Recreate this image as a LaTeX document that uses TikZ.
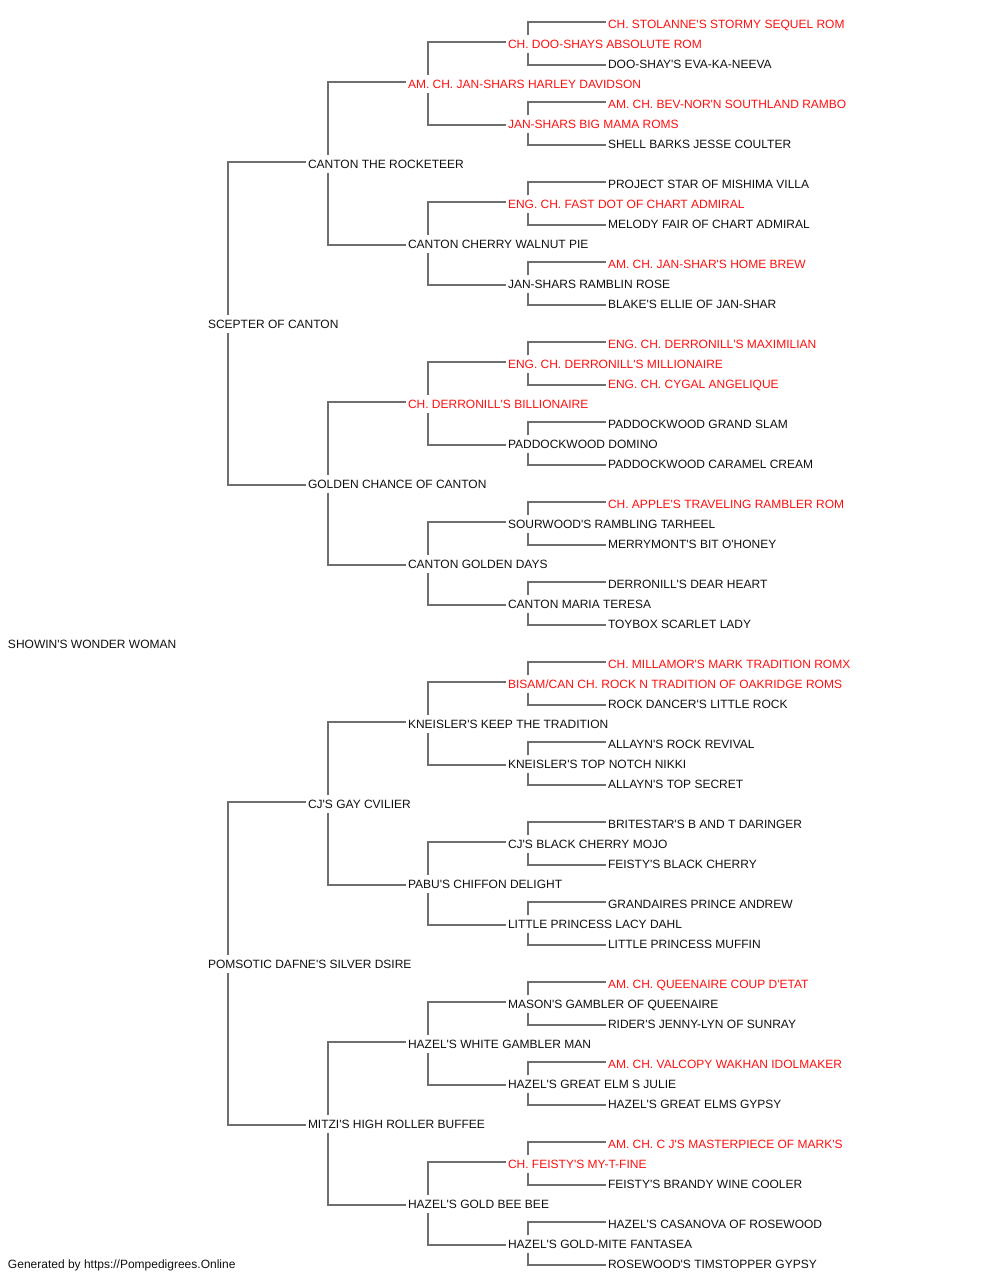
\documentclass[tikz,border=0pt]{standalone}
\usepackage{fontspec}
\newfontfamily\pedfont{Liberation Sans}
\definecolor{ink}{HTML}{111111}
\definecolor{pedred}{HTML}{FF1010}
\definecolor{linegray}{HTML}{6E6E6E}
\tikzset{
  pd/.style={anchor=base west, inner xsep=2.5pt, inner ysep=0pt, outer sep=0pt,
    text height=13.7pt, text depth=4.3pt, font=\pedfont\fontsize{12}{14}\selectfont, text=ink},
  pr/.style={pd, text=pedred},
  ln/.style={draw=linegray, line width=2pt}
}
\begin{document}
\begin{tikzpicture}[x=1pt,y=-1pt]
\useasboundingbox[fill=white] (0,0) rectangle (1000,1280);
% generation 0
\node[pd] (n0-0) at (5.5,648.7) {SHOWIN'S WONDER WOMAN};
% generation 1
\node[pd] (n1-0) at (205.5,328.7) {SCEPTER OF CANTON};
\node[pd] (n1-1) at (205.5,968.7) {POMSOTIC DAFNE'S SILVER DSIRE};
% generation 2
\node[pd] (n2-0) at (305.5,168.7) {CANTON THE ROCKETEER};
\node[pd] (n2-1) at (305.5,488.7) {GOLDEN CHANCE OF CANTON};
\node[pd] (n2-2) at (305.5,808.7) {CJ'S GAY CVILIER};
\node[pd] (n2-3) at (305.5,1128.7) {MITZI'S HIGH ROLLER BUFFEE};
% generation 3
\node[pr] (n3-0) at (405.5,88.7) {AM. CH. JAN-SHARS HARLEY DAVIDSON};
\node[pd] (n3-1) at (405.5,248.7) {CANTON CHERRY WALNUT PIE};
\node[pr] (n3-2) at (405.5,408.7) {CH. DERRONILL'S BILLIONAIRE};
\node[pd] (n3-3) at (405.5,568.7) {CANTON GOLDEN DAYS};
\node[pd] (n3-4) at (405.5,728.7) {KNEISLER'S KEEP THE TRADITION};
\node[pd] (n3-5) at (405.5,888.7) {PABU'S CHIFFON DELIGHT};
\node[pd] (n3-6) at (405.5,1048.7) {HAZEL'S WHITE GAMBLER MAN};
\node[pd] (n3-7) at (405.5,1208.7) {HAZEL'S GOLD BEE BEE};
% generation 4
\node[pr] (n4-0) at (505.5,48.7) {CH. DOO-SHAYS ABSOLUTE ROM};
\node[pr] (n4-1) at (505.5,128.7) {JAN-SHARS BIG MAMA ROMS};
\node[pr] (n4-2) at (505.5,208.7) {ENG. CH. FAST DOT OF CHART ADMIRAL};
\node[pd] (n4-3) at (505.5,288.7) {JAN-SHARS RAMBLIN ROSE};
\node[pr] (n4-4) at (505.5,368.7) {ENG. CH. DERRONILL'S MILLIONAIRE};
\node[pd] (n4-5) at (505.5,448.7) {PADDOCKWOOD DOMINO};
\node[pd] (n4-6) at (505.5,528.7) {SOURWOOD'S RAMBLING TARHEEL};
\node[pd] (n4-7) at (505.5,608.7) {CANTON MARIA TERESA};
\node[pr] (n4-8) at (505.5,688.7) {BISAM/CAN CH. ROCK N TRADITION OF OAKRIDGE ROMS};
\node[pd] (n4-9) at (505.5,768.7) {KNEISLER'S TOP NOTCH NIKKI};
\node[pd] (n4-10) at (505.5,848.7) {CJ'S BLACK CHERRY MOJO};
\node[pd] (n4-11) at (505.5,928.7) {LITTLE PRINCESS LACY DAHL};
\node[pd] (n4-12) at (505.5,1008.7) {MASON'S GAMBLER OF QUEENAIRE};
\node[pd] (n4-13) at (505.5,1088.7) {HAZEL'S GREAT ELM S JULIE};
\node[pr] (n4-14) at (505.5,1168.7) {CH. FEISTY'S MY-T-FINE};
\node[pd] (n4-15) at (505.5,1248.7) {HAZEL'S GOLD-MITE FANTASEA};
% generation 5
\node[pr] (n5-0) at (605.5,28.7) {CH. STOLANNE'S STORMY SEQUEL ROM};
\node[pd] (n5-1) at (605.5,68.7) {DOO-SHAY'S EVA-KA-NEEVA};
\node[pr] (n5-2) at (605.5,108.7) {AM. CH. BEV-NOR'N SOUTHLAND RAMBO};
\node[pd] (n5-3) at (605.5,148.7) {SHELL BARKS JESSE COULTER};
\node[pd] (n5-4) at (605.5,188.7) {PROJECT STAR OF MISHIMA VILLA};
\node[pd] (n5-5) at (605.5,228.7) {MELODY FAIR OF CHART ADMIRAL};
\node[pr] (n5-6) at (605.5,268.7) {AM. CH. JAN-SHAR'S HOME BREW};
\node[pd] (n5-7) at (605.5,308.7) {BLAKE'S ELLIE OF JAN-SHAR};
\node[pr] (n5-8) at (605.5,348.7) {ENG. CH. DERRONILL'S MAXIMILIAN};
\node[pr] (n5-9) at (605.5,388.7) {ENG. CH. CYGAL ANGELIQUE};
\node[pd] (n5-10) at (605.5,428.7) {PADDOCKWOOD GRAND SLAM};
\node[pd] (n5-11) at (605.5,468.7) {PADDOCKWOOD CARAMEL CREAM};
\node[pr] (n5-12) at (605.5,508.7) {CH. APPLE'S TRAVELING RAMBLER ROM};
\node[pd] (n5-13) at (605.5,548.7) {MERRYMONT'S BIT O'HONEY};
\node[pd] (n5-14) at (605.5,588.7) {DERRONILL'S DEAR HEART};
\node[pd] (n5-15) at (605.5,628.7) {TOYBOX SCARLET LADY};
\node[pr] (n5-16) at (605.5,668.7) {CH. MILLAMOR'S MARK TRADITION ROMX};
\node[pd] (n5-17) at (605.5,708.7) {ROCK DANCER'S LITTLE ROCK};
\node[pd] (n5-18) at (605.5,748.7) {ALLAYN'S ROCK REVIVAL};
\node[pd] (n5-19) at (605.5,788.7) {ALLAYN'S TOP SECRET};
\node[pd] (n5-20) at (605.5,828.7) {BRITESTAR'S B AND T DARINGER};
\node[pd] (n5-21) at (605.5,868.7) {FEISTY'S BLACK CHERRY};
\node[pd] (n5-22) at (605.5,908.7) {GRANDAIRES PRINCE ANDREW};
\node[pd] (n5-23) at (605.5,948.7) {LITTLE PRINCESS MUFFIN};
\node[pr] (n5-24) at (605.5,988.7) {AM. CH. QUEENAIRE COUP D'ETAT};
\node[pd] (n5-25) at (605.5,1028.7) {RIDER'S JENNY-LYN OF SUNRAY};
\node[pr] (n5-26) at (605.5,1068.7) {AM. CH. VALCOPY WAKHAN IDOLMAKER};
\node[pd] (n5-27) at (605.5,1108.7) {HAZEL'S GREAT ELMS GYPSY};
\node[pr] (n5-28) at (605.5,1148.7) {AM. CH. C J'S MASTERPIECE OF MARK'S};
\node[pd] (n5-29) at (605.5,1188.7) {FEISTY'S BRANDY WINE COOLER};
\node[pd] (n5-30) at (605.5,1228.7) {HAZEL'S CASANOVA OF ROSEWOOD};
\node[pd] (n5-31) at (605.5,1268.7) {ROSEWOOD'S TIMSTOPPER GYPSY};
% footer
\node[pd] (footer) at (5.5,1268.7) {Generated by https://Pompedigrees.Online};
% connectors
\foreach \g in {1,...,4}{
  \pgfmathtruncatemacro\ng{\g+1}
  \pgfmathtruncatemacro\last{2^\g-1}
  \foreach \i in {0,...,\last}{
    \pgfmathtruncatemacro\ca{2*\i}
    \pgfmathtruncatemacro\cb{2*\i+1}
    \draw[ln] ([xshift=22.5pt]n\g-\i.north west) |- ([yshift=2.5pt]n\ng-\ca.west);
    \draw[ln] ([xshift=22.5pt]n\g-\i.south west) |- ([yshift=-0.5pt]n\ng-\cb.west);
  }
}
\end{tikzpicture}
\end{document}
